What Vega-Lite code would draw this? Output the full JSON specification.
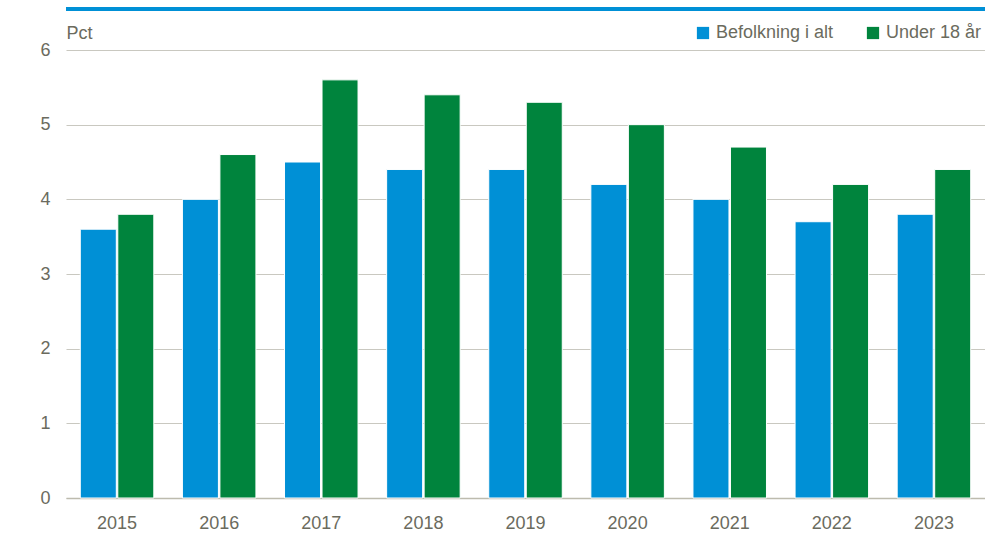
{
  "$schema": "https://vega.github.io/schema/vega-lite/v6.json",
  "width": 919,
  "height": 448,
  "autosize": {"type": "none"},
  "padding": {"left": 66, "top": 50, "right": 0, "bottom": 38},
  "background": "white",
  "config": {
    "font": "Liberation Sans",
    "view": {"stroke": null},
    "axis": {"labelColor": "#6b6b5e", "titleColor": "#6b6b5e", "labelFont": "Liberation Sans", "titleFont": "Liberation Sans"}
  },
  "data": {
    "values": [
      {"year": "2015", "series": "Befolkning i alt", "value": 3.6},
      {"year": "2015", "series": "Under 18 år", "value": 3.8},
      {"year": "2016", "series": "Befolkning i alt", "value": 4.0},
      {"year": "2016", "series": "Under 18 år", "value": 4.6},
      {"year": "2017", "series": "Befolkning i alt", "value": 4.5},
      {"year": "2017", "series": "Under 18 år", "value": 5.6},
      {"year": "2018", "series": "Befolkning i alt", "value": 4.4},
      {"year": "2018", "series": "Under 18 år", "value": 5.4},
      {"year": "2019", "series": "Befolkning i alt", "value": 4.4},
      {"year": "2019", "series": "Under 18 år", "value": 5.3},
      {"year": "2020", "series": "Befolkning i alt", "value": 4.2},
      {"year": "2020", "series": "Under 18 år", "value": 5.0},
      {"year": "2021", "series": "Befolkning i alt", "value": 4.0},
      {"year": "2021", "series": "Under 18 år", "value": 4.7},
      {"year": "2022", "series": "Befolkning i alt", "value": 3.7},
      {"year": "2022", "series": "Under 18 år", "value": 4.2},
      {"year": "2023", "series": "Befolkning i alt", "value": 3.8},
      {"year": "2023", "series": "Under 18 år", "value": 4.4}
    ]
  },
  "layer": [
    {
      "mark": {"type": "bar", "stroke": "white", "strokeWidth": 1},
      "encoding": {
        "x": {
          "field": "year", "type": "nominal",
          "scale": {"paddingInner": 0.28, "paddingOuter": 0.14},
          "axis": {"title": null, "labelAngle": 0, "labelFontSize": 18, "labelPadding": 16, "domainColor": "#bdbbae", "domainWidth": 1.5, "ticks": false}
        },
        "xOffset": {"field": "series", "type": "nominal", "scale": {"paddingInner": 0.04}},
        "y": {
          "field": "value", "type": "quantitative",
          "scale": {"domain": [0, 6]},
          "axis": {"title": "Pct", "titleAngle": 0, "titleX": 0, "titleY": -8, "titleAlign": "left", "titleBaseline": "bottom", "titleFontSize": 18, "titleFontWeight": "normal", "tickCount": 6, "labelFontSize": 18, "labelPadding": 16, "domain": false, "ticks": false, "gridColor": "#c9c8c0", "gridWidth": 1.2}
        },
        "color": {
          "field": "series", "type": "nominal",
          "scale": {"domain": ["Befolkning i alt", "Under 18 år"], "range": ["#0090d6", "#00843d"]},
          "legend": {
            "title": null, "orient": "none", "direction": "horizontal", "legendX": 628, "legendY": -26,
            "symbolType": "square", "symbolSize": 150, "symbolStrokeWidth": 0, "labelFontSize": 18, "labelColor": "#6b6b5e", "columnPadding": 30, "labelOffset": 4
          }
        }
      }
    },
    {
      "mark": {"type": "rule", "color": "#0090d6", "strokeWidth": 3, "clip": false},
      "encoding": {"y": {"datum": 6.55}}
    }
  ]
}
